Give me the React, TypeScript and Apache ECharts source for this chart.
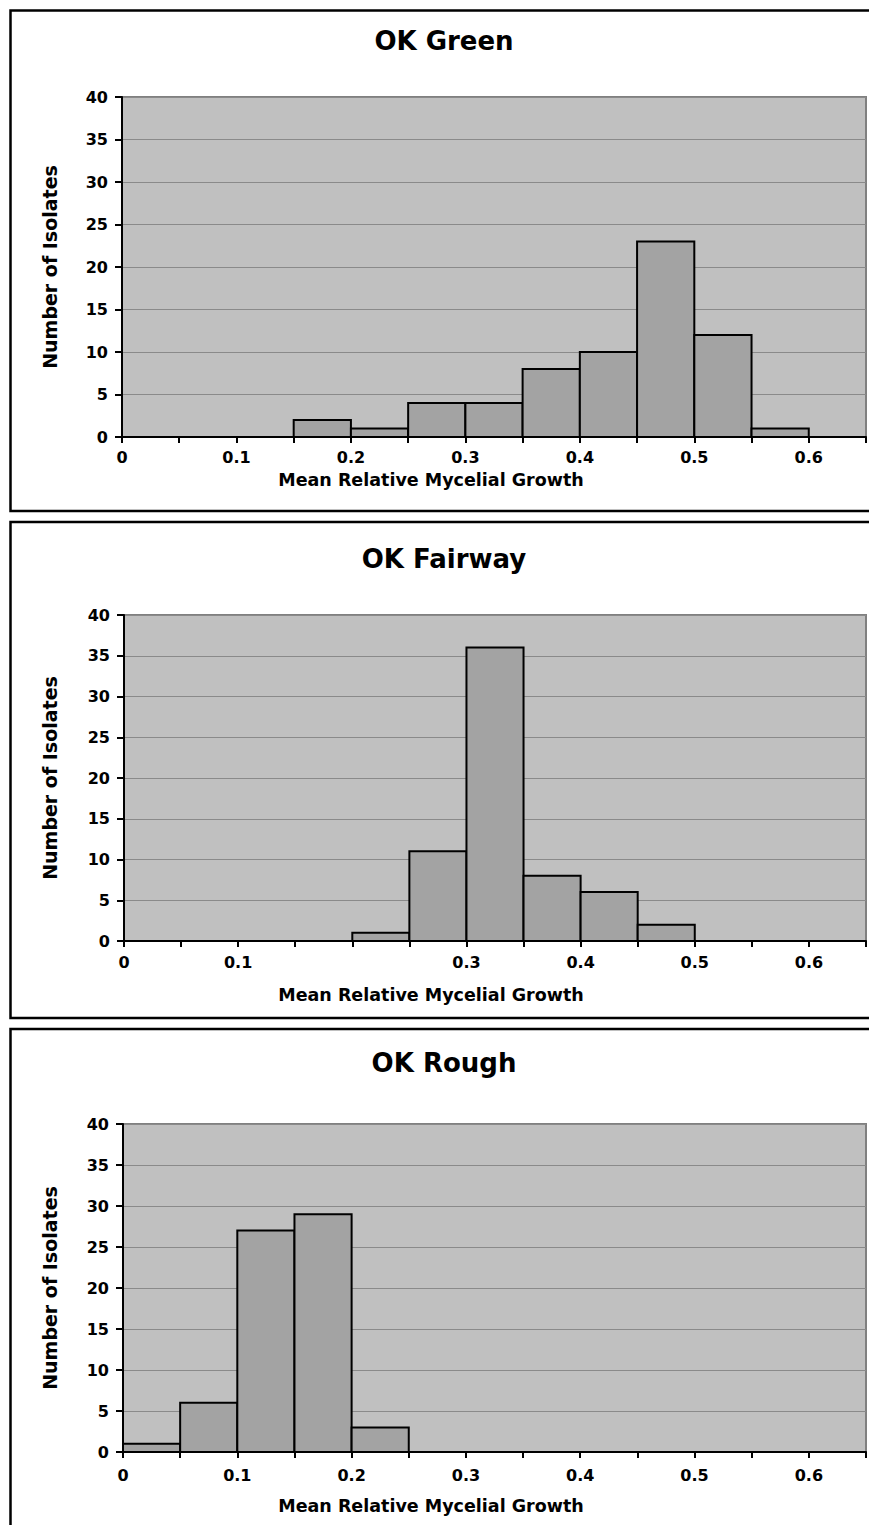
import { useEffect, useRef } from "react";
import * as echarts from "echarts";

// ---- Data ----
const binStarts = [0, 0.05, 0.1, 0.15, 0.2, 0.25, 0.3, 0.35, 0.4, 0.45, 0.5, 0.55, 0.6];
const binWidth = 0.05;
const greenCounts = [0, 0, 0, 2, 1, 4, 4, 8, 10, 23, 12, 1, 0];
const fairwayCounts = [0, 0, 0, 0, 1, 11, 36, 8, 6, 2, 0, 0, 0];
const roughCounts = [1, 6, 27, 29, 3, 0, 0, 0, 0, 0, 0, 0, 0];
const panelTitles = ["OK Green", "OK Fairway", "OK Rough"];
const xAxisTitle = "Mean Relative Mycelial Growth";
const yAxisTitle = "Number of Isolates";
const yMin = 0;
const yMax = 40;
const yStep = 5;
const xMin = 0;
const xMax = 0.65;
const xStep = 0.05;
const xLabelsShown = [
  [0, 10, 20, 30, 40, 50, 60],
  [0, 10, 30, 40, 50, 60],
  [0, 10, 20, 30, 40, 50, 60],
];

// ---- Layout ----
const FONT = "DejaVu Sans";
const panels = [
  { boxTop: 10.5, boxBottom: 511, left: 122, top: 97, width: 744, height: 340, titleY: 41, xNameY: 480, labelMargin: 12 },
  { boxTop: 522, boxBottom: 1018, left: 124, top: 615, width: 742, height: 326, titleY: 559, xNameY: 995, labelMargin: 13 },
  { boxTop: 1029, boxBottom: 1560, left: 123, top: 1124, width: 743, height: 328, titleY: 1063, xNameY: 1506, labelMargin: 15 },
];
const allCounts = [greenCounts, fairwayCounts, roughCounts];

export default function App() {
  const ref = useRef<HTMLDivElement>(null);
  useEffect(() => {
    if (!ref.current) return;
    const chart = echarts.init(ref.current, undefined, { renderer: "svg" });

    const grids = panels.map((p) => ({
      left: p.left,
      top: p.top,
      width: p.width,
      height: p.height,
      show: true,
      backgroundColor: "#c0c0c0",
      borderColor: "#808080",
      borderWidth: 2,
      containLabel: false,
    }));

    const xAxes = panels.map((p, i) => ({
      type: "value",
      gridIndex: i,
      min: xMin,
      max: xMax,
      interval: xStep,
      axisLine: { show: true, onZero: false, lineStyle: { color: "#000", width: 2 } },
      axisTick: { show: true, length: 6, lineStyle: { color: "#000", width: 2 } },
      splitLine: { show: false },
      axisLabel: {
        margin: p.labelMargin,
        fontFamily: FONT,
        fontWeight: "bold",
        fontSize: 16,
        color: "#000",
        showMaxLabel: true,
        showMinLabel: true,
        formatter: (v: number) => {
          const k = Math.round(v * 100);
          if (!xLabelsShown[i].includes(k)) return "";
          return k === 0 ? "0" : String(k / 100);
        },
      },
    }));

    const yAxes = panels.map((p, i) => ({
      type: "value",
      gridIndex: i,
      min: yMin,
      max: yMax,
      interval: yStep,
      axisLine: { show: true, lineStyle: { color: "#000", width: 2 } },
      axisTick: { show: true, length: 7, lineStyle: { color: "#000", width: 2 } },
      splitLine: { show: true, lineStyle: { color: "#8a8a8a", width: 1 } },
      axisLabel: {
        margin: 14,
        fontFamily: FONT,
        fontWeight: "bold",
        fontSize: 16,
        color: "#000",
      },
    }));

    const series = allCounts.map((counts, i) => ({
      type: "custom",
      xAxisIndex: i,
      yAxisIndex: i,
      encode: { x: [0, 1], y: 2 },
      data: binStarts
        .map((s, j) => [s, s + binWidth, counts[j]])
        .filter((d) => d[2] > 0),
      renderItem: (_params: any, api: any) => {
        const x0 = api.value(0);
        const x1 = api.value(1);
        const y = api.value(2);
        const p0 = api.coord([x0, y]);
        const p1 = api.coord([x1, 0]);
        return {
          type: "rect",
          shape: { x: p0[0], y: p0[1], width: p1[0] - p0[0], height: p1[1] - p0[1] },
          style: { fill: "#a3a3a3", stroke: "#000", lineWidth: 2 },
        };
      },
    }));

    const graphic: any[] = [];
    panels.forEach((p, i) => {
      graphic.push({
        type: "rect",
        shape: { x: 10.5, y: p.boxTop, width: 900, height: p.boxBottom - p.boxTop },
        style: { fill: "none", stroke: "#000", lineWidth: 2.5 },
        z: -10,
      });
      graphic.push({
        type: "text",
        x: 444,
        y: p.titleY,
        style: {
          text: panelTitles[i],
          font: `bold 26px "${FONT}"`,
          fill: "#000",
          textAlign: "center",
          textVerticalAlign: "middle",
        },
      });
      graphic.push({
        type: "text",
        x: 431,
        y: p.xNameY,
        style: {
          text: xAxisTitle,
          font: `bold 17.5px "${FONT}"`,
          fill: "#000",
          textAlign: "center",
          textVerticalAlign: "middle",
        },
      });
      graphic.push({
        type: "text",
        x: 50,
        y: p.top + p.height / 2,
        rotation: Math.PI / 2,
        style: {
          text: yAxisTitle,
          font: `bold 19px "${FONT}"`,
          fill: "#000",
          textAlign: "center",
          textVerticalAlign: "middle",
        },
      });
    });

    chart.setOption({
      animation: false,
      backgroundColor: "#fff",
      grid: grids,
      xAxis: xAxes,
      yAxis: yAxes,
      series,
      graphic,
    } as any);

    return () => chart.dispose();
  }, []);

  return (
    <div
      ref={ref}
      style={{ position: "absolute", left: 0, top: 0, width: 869, height: 1525 }}
    />
  );
}
